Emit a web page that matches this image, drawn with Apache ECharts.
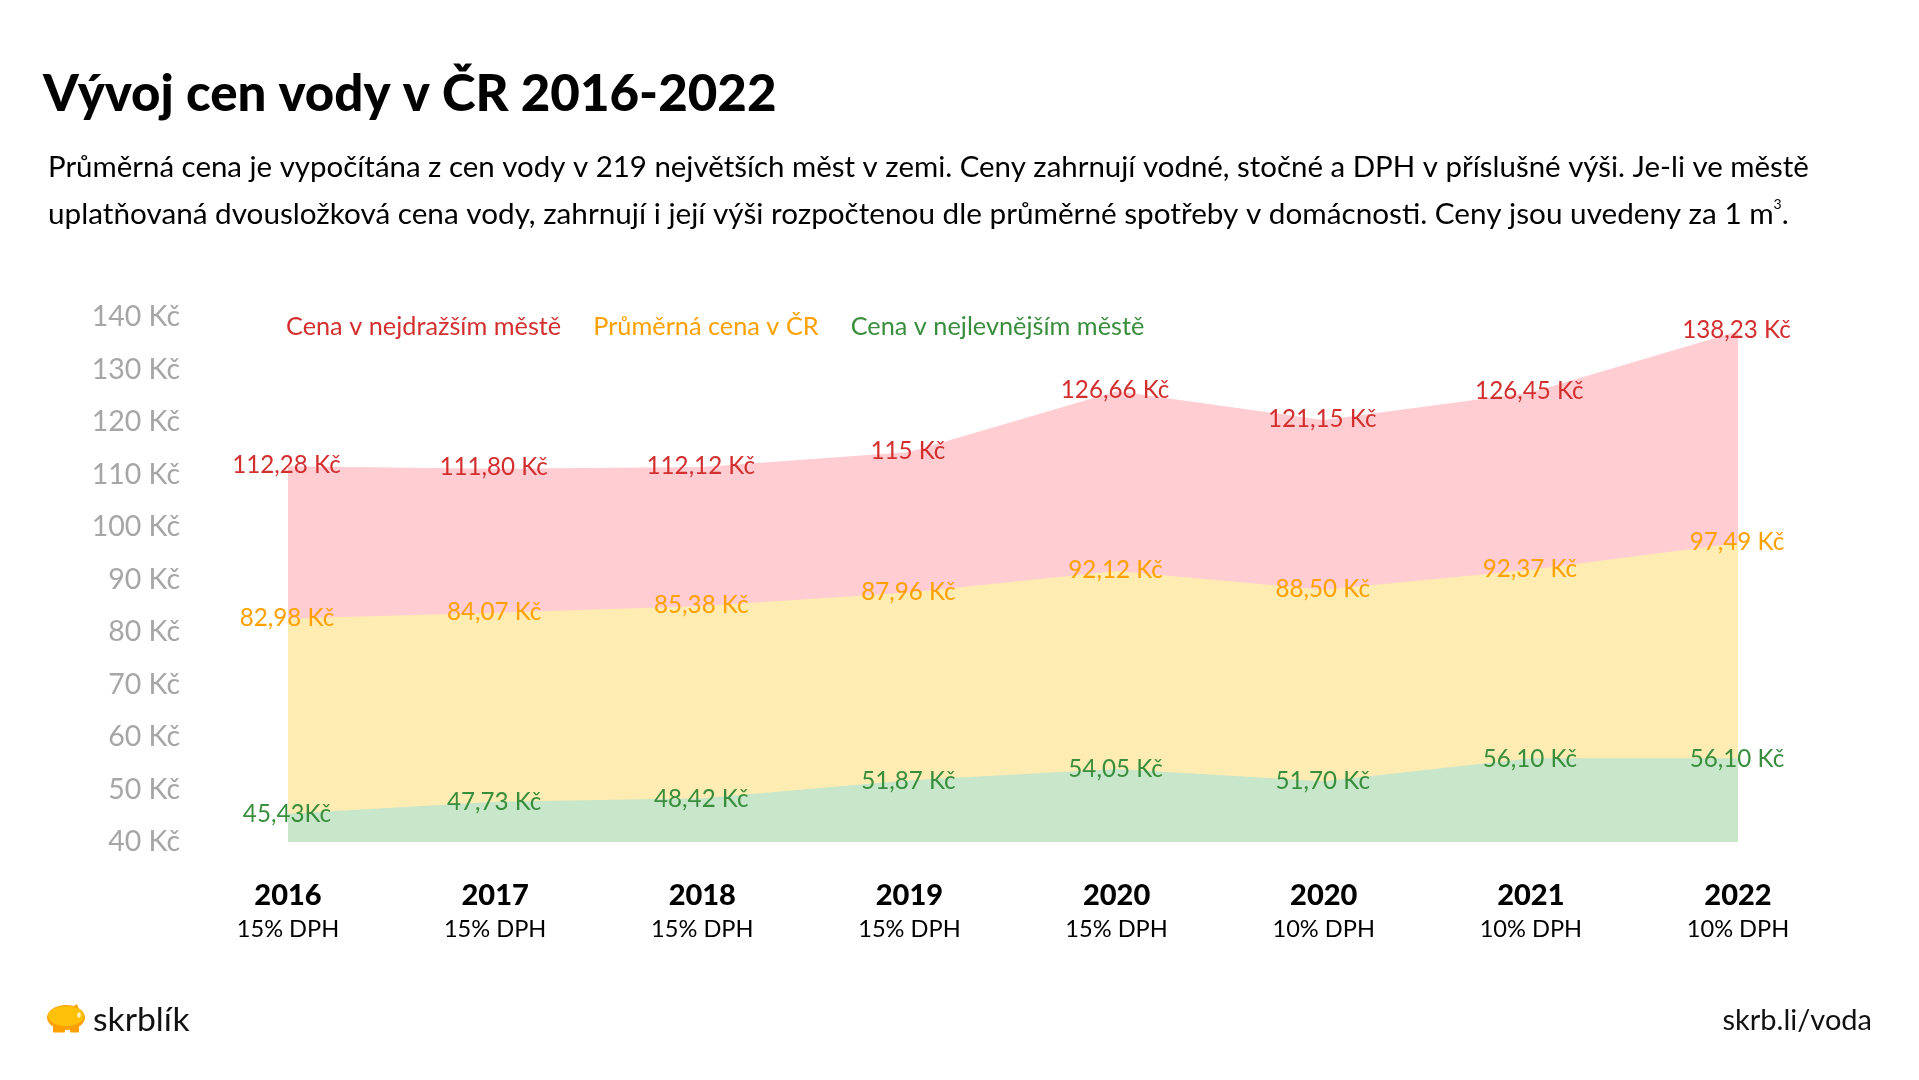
<!DOCTYPE html>
<html><head><meta charset="utf-8">
<style>html,body{margin:0;padding:0;background:#fff}#c{width:1919px;height:1080px}</style>
<script src="https://cdn.jsdelivr.net/npm/echarts@6/dist/echarts.min.js"></script>
</head><body><div id="c"></div>
<script>
const years = ['2016','2017','2018','2019','2020','2020','2021','2022'];
const vat = ['15% DPH','15% DPH','15% DPH','15% DPH','15% DPH','10% DPH','10% DPH','10% DPH'];
const maxPrice = [112.28,111.80,112.12,115,126.66,121.15,126.45,138.23];
const avgPrice = [82.98,84.07,85.38,87.96,92.12,88.50,92.37,97.49];
const minPrice = [45.43,47.73,48.42,51.87,54.05,51.70,56.10,56.10];
const maxLabels = ['112,28 Kč','111,80 Kč','112,12 Kč','115 Kč','126,66 Kč','121,15 Kč','126,45 Kč','138,23 Kč'];
const avgLabels = ['82,98 Kč','84,07 Kč','85,38 Kč','87,96 Kč','92,12 Kč','88,50 Kč','92,37 Kč','97,49 Kč'];
const minLabels = ['45,43Kč','47,73 Kč','48,42 Kč','51,87 Kč','54,05 Kč','51,70 Kč','56,10 Kč','56,10 Kč'];
const seriesNames = ['Cena v nejdražším městě','Průměrná cena v ČR','Cena v nejlevnějším městě'];
const titleText = 'Vývoj cen vody v ČR 2016-2022';
const noteLine1 = 'Průměrná cena je vypočítána z cen vody v 219 největších měst v zemi. Ceny zahrnují vodné, stočné a DPH v příslušné výši. Je-li ve městě';
const noteLine2 = 'uplatňovaná dvousložková cena vody, zahrnují i její výši rozpočtenou dle průměrné spotřeby v domácnosti. Ceny jsou uvedeny za 1 m';
const brand = 'skrblík';
const link = 'skrb.li/voda';

const FONT = 'Lato';
const BLACK = '"Lato Black", Lato';
const chart = echarts.init(document.getElementById('c'), null, {renderer:'canvas'});
function mk(name, data, labels, area, text, off, z){
  return {
    name, type:'line', data, z,
    symbol:'circle', symbolSize:1, showSymbol:true,
    itemStyle:{color:'rgba(0,0,0,0)'},
    lineStyle:{width:0},
    areaStyle:{color:area, opacity:1, origin:'start'},
    silent:true, animation:false,
    label:{show:true, position:'inside', offset:off, fontFamily:FONT, fontSize:24.2, color:text,
      formatter:p=>labels[p.dataIndex]},
    emphasis:{disabled:true}
  };
}
chart.setOption({
  animation:false,
  backgroundColor:'#fff',
  title:[
    {text:titleText,left:38,top:64,textStyle:{fontFamily:BLACK,fontWeight:900,fontSize:51,color:'#000'}},
    {text:noteLine1,left:43,top:148,textStyle:{fontFamily:FONT,fontWeight:400,fontSize:29.45,color:'#000'}},
    {text:'{n|'+noteLine2+'}{s|3}{n|.}',left:43,top:192,textStyle:{rich:{
      n:{fontFamily:FONT,fontWeight:400,fontSize:29.7,color:'#000',lineHeight:34},
      s:{fontFamily:FONT,fontWeight:400,fontSize:14,color:'#000',verticalAlign:'top',lineHeight:34}}}},
    {text:brand,left:88,top:998,textStyle:{fontFamily:FONT,fontWeight:400,fontSize:33.7,color:'#111'}},
    {text:link,right:42,top:1001,textStyle:{fontFamily:FONT,fontWeight:400,fontSize:29,color:'#111'}}
  ],
  legend:{
    left:276, top:308, icon:'none', itemWidth:0, itemHeight:28, itemGap:27, selectedMode:false,
    textStyle:{fontFamily:FONT,fontSize:25.3},
    data:[
      {name:seriesNames[0],textStyle:{color:'#d32f2f'}},
      {name:seriesNames[1],textStyle:{color:'#ffa000'}},
      {name:seriesNames[2],textStyle:{color:'#388e3c'}}
    ]
  },
  grid:[
    {left:288,right:181,top:322,bottom:238},
    {left:190,width:10,top:317,bottom:238}
  ],
  xAxis:[
    {type:'category',gridIndex:0,boundaryGap:false,data:years,
     axisLine:{show:false},axisTick:{show:false},
     axisLabel:{interval:0,margin:37,lineHeight:33.5,hideOverlap:false,
       formatter:(v,i)=>'{y|'+v+'}\n{d|'+vat[i]+'}',
       rich:{y:{fontFamily:BLACK,fontWeight:900,fontSize:29,color:'#000',lineHeight:33.5},
             d:{fontFamily:FONT,fontSize:23.6,color:'#000',lineHeight:33.5}}}},
    {type:'category',gridIndex:1,show:false,data:years}
  ],
  yAxis:[
    {type:'value',gridIndex:0,min:40,max:140,show:false},
    {type:'value',gridIndex:1,min:40,max:140,interval:10,
     axisLine:{show:false},axisTick:{show:false},splitLine:{show:false},
     axisLabel:{margin:10,fontFamily:FONT,fontSize:28.5,color:'#a6a6a6',formatter:'{value} Kč'}}
  ],
  series:[
    mk(seriesNames[0],maxPrice,maxLabels,'#ffcdd2','#d32f2f',[-1.5,-1],2),
    mk(seriesNames[1],avgPrice,avgLabels,'#ffecb3','#ffa000',[-1,-0.5],3),
    mk(seriesNames[2],minPrice,minLabels,'#c8e6c9','#388e3c',[-1,0.5],4)
  ],
  graphic:[
    {type:'group',left:47,top:1004,silent:true,children:[
      {type:'rect',shape:{x:6,y:20,width:12,height:8.5,r:1},style:{fill:'#ffa000'}},
      {type:'rect',shape:{x:23,y:20,width:9,height:8.5,r:1},style:{fill:'#ffa000'}},
      {type:'polygon',shape:{points:[[24,4],[30,0],[33,9]]},style:{fill:'#ffa000'}},
      {type:'ellipse',shape:{cx:19,cy:13.5,rx:19,ry:12.5},style:{fill:'#ffa000'}},
      {type:'ellipse',shape:{cx:19,cy:12,rx:18,ry:10},style:{fill:'#ffc107'}},
      {type:'ellipse',shape:{cx:32,cy:11,rx:1.8,ry:2.8},style:{fill:'#fff3c4'}}
    ]}
  ]
});
</script></body></html>
